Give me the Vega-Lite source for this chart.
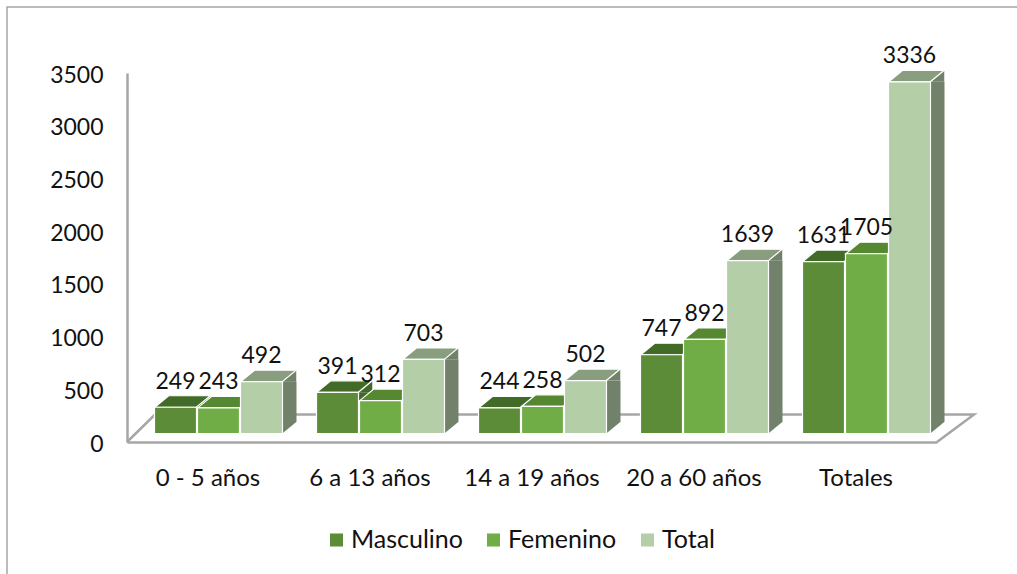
{
"$schema":"https://vega.github.io/schema/vega-lite/v6.json",
"width":1015,"height":575,
"autosize":{"type":"none"},
"padding":{"left":7,"top":7,"right":0,"bottom":0},
"background":"white",
"config":{"view":{"stroke":"#a6a6a6","strokeWidth":1.5},"font":"Lato"},
"data":{"values":[
{"grupo":"0 - 5 años","serie":"Masculino","valor":249},
{"grupo":"0 - 5 años","serie":"Femenino","valor":243},
{"grupo":"0 - 5 años","serie":"Total","valor":492},
{"grupo":"6 a 13 años","serie":"Masculino","valor":391},
{"grupo":"6 a 13 años","serie":"Femenino","valor":312},
{"grupo":"6 a 13 años","serie":"Total","valor":703},
{"grupo":"14 a 19 años","serie":"Masculino","valor":244},
{"grupo":"14 a 19 años","serie":"Femenino","valor":258},
{"grupo":"14 a 19 años","serie":"Total","valor":502},
{"grupo":"20 a 60 años","serie":"Masculino","valor":747},
{"grupo":"20 a 60 años","serie":"Femenino","valor":892},
{"grupo":"20 a 60 años","serie":"Total","valor":1639},
{"grupo":"Totales","serie":"Masculino","valor":1631},
{"grupo":"Totales","serie":"Femenino","valor":1705},
{"grupo":"Totales","serie":"Total","valor":3336}
]},
"encoding":{
"x":{"field":"grupo","type":"nominal","sort":null,"title":null,
 "scale":{"type":"band","domain":["0 - 5 años","6 a 13 años","14 a 19 años","20 a 60 años","Totales"],"range":[120,930],"paddingInner":0,"paddingOuter":0},
 "axis":{"orient":"bottom","offset":-140,"domainColor":"#a6a6a6","domainWidth":2.5,"ticks":false,"labelAngle":0,"labelFont":"Lato","labelFontSize":24,"labelColor":"#111111","labelPadding":24}},
"xOffset":{"field":"serie","type":"nominal","sort":null,"scale":{"type":"band","domain":["Masculino","Femenino","Total"],"range":[27,156],"paddingInner":0,"paddingOuter":0}},
"y":{"field":"valor","type":"quantitative","title":null,
 "scale":{"domain":[0,3500],"range":[435,66],"nice":false,"zero":true},
 "axis":{"orient":"left","offset":-120,"values":[0,500,1000,1500,2000,2500,3000,3500],"format":"d","grid":false,"ticks":false,"domainColor":"#a6a6a6","domainWidth":2.5,"labelFont":"Lato","labelFontSize":23,"labelColor":"#111111","labelPadding":24,"labelOffset":2,"labelOverlap":false}}
},
"layer":[
{"transform":[{"filter":"datum.grupo === 'Totales' && datum.serie === 'Femenino'"}],
 "mark":{"type":"point","shape":"M-739.5,0L-711.5,-27.5L107.5,-27.5L70.5,0","size":4,"filled":false,"opacity":1,"stroke":"#a6a6a6","strokeWidth":2.5},
 "encoding":{"y":{"datum":0}}},
{"mark":{"type":"bar","width":14,"yOffset":-8.5,"y2Offset":-20},
 "encoding":{"xOffset":{"field":"serie","type":"nominal","sort":null,"scale":{"type":"band","domain":["Masculino","Femenino","Total"],"range":[55,184],"paddingInner":0,"paddingOuter":0}},"y2":{"datum":0},"color":{"field":"serie","type":"nominal","legend":null,"scale":{"domain":["Masculino","Femenino","Total"],"range":["#41682a","#4f7d2f","#728169"]}}}},
{"mark":{"type":"point","shape":"M20.75,0L34.75,-11.5L34.75,0Z","size":4,"filled":true,"opacity":1,"yOffset":-8.5},
 "encoding":{"color":{"field":"serie","type":"nominal","legend":null,"scale":{"domain":["Masculino","Femenino","Total"],"range":["#41682a","#4f7d2f","#728169"]}}}},
{"mark":{"type":"point","shape":"M20.75,0L34.75,-11.5L20.75,-11.5Z","size":4,"filled":true,"opacity":1,"yOffset":-8.5},
 "encoding":{"y":{"datum":0},"color":{"field":"serie","type":"nominal","legend":null,"scale":{"domain":["Masculino","Femenino","Total"],"range":["#41682a","#4f7d2f","#728169"]}}}},
{"mark":{"type":"point","shape":"M-20.75,0L-6.75,-11.5L34.75,-11.5L20.75,0Z","size":4,"filled":true,"opacity":1,"yOffset":-8.5,"stroke":"white","strokeWidth":1.2},
 "encoding":{"color":{"field":"serie","type":"nominal","legend":null,"scale":{"domain":["Masculino","Femenino","Total"],"range":["#436b28","#558830","#899e7f"]}}}},
{"mark":{"type":"bar","width":42,"yOffset":-8.5,"y2Offset":-8.5,"stroke":"white","strokeWidth":1.2},
 "encoding":{"y2":{"datum":0},"color":{"field":"serie","type":"nominal","scale":{"domain":["Masculino","Femenino","Total"],"range":["#5c8c38","#70ad47","#b4cfa8"]},
  "legend":{"orient":"none","legendX":317,"legendY":518,"direction":"horizontal","columns":3,"title":null,"symbolType":"square","symbolSize":170,"symbolStrokeWidth":0,"labelFont":"Lato","labelFontSize":25,"labelColor":"#111111","columnPadding":18,"labelOffset":2,"clipHeight":30}}}},
{"mark":{"type":"text","dy":-34,"font":"Lato","fontSize":23,"color":"#111111","baseline":"middle"},
 "encoding":{"text":{"field":"valor","type":"quantitative"}}}
],
"resolve":{"scale":{"color":"independent","xOffset":"independent"}}
}
